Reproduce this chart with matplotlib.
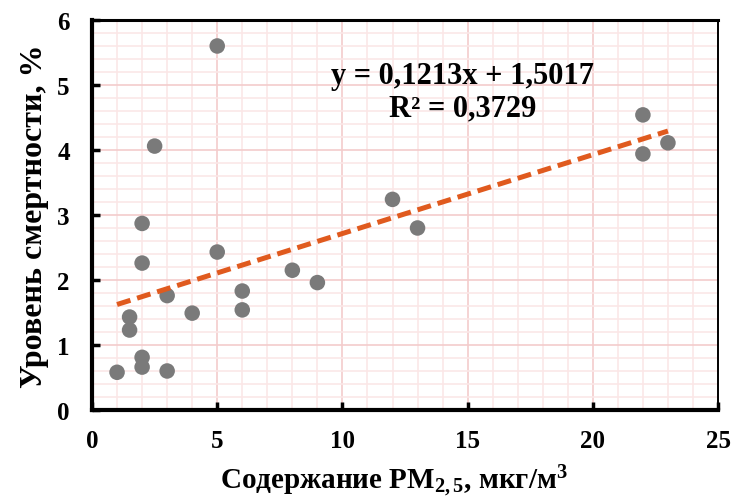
import matplotlib
matplotlib.use("Agg")
import matplotlib.pyplot as plt
import numpy as np
from matplotlib.ticker import MultipleLocator

# PM2.5 concentration (x) and mortality level (y)
pm25 = [1, 2, 2, 3, 1.5, 1.5, 4, 3, 2, 2, 5, 6, 6, 8, 9, 5, 2.5, 12, 13, 22, 22, 23]
mortality = [0.58, 0.66, 0.81, 0.60, 1.23, 1.43, 1.49, 1.76, 2.26, 2.87, 2.43,
             1.83, 1.54, 2.15, 1.96, 5.60, 4.06, 3.24, 2.80, 4.54, 3.94, 4.11]

# trend line coefficients as shown in the label
slope = 0.1213
intercept = 1.5017
r2 = 0.3729

plt.rcParams["font.family"] = ["Liberation Serif", "DejaVu Serif"]
plt.rcParams["font.weight"] = "bold"
plt.rcParams["mathtext.fontset"] = "custom"
plt.rcParams["mathtext.rm"] = "Liberation Serif:bold"
plt.rcParams["mathtext.bf"] = "Liberation Serif:bold"
plt.rcParams["mathtext.it"] = "Liberation Serif:bold:italic"

fig = plt.figure(figsize=(7.35, 5.02), dpi=100)
ax = fig.add_axes([0.1252, 0.1813, 0.8517, 0.7769])

ax.set_xlim(0, 25)
ax.set_ylim(0, 6)
ax.xaxis.set_major_locator(MultipleLocator(5))
ax.xaxis.set_minor_locator(MultipleLocator(1))
ax.yaxis.set_major_locator(MultipleLocator(1))
ax.yaxis.set_minor_locator(MultipleLocator(0.2))

ax.grid(which="major", color="#f3cccc", linewidth=1.2, zorder=0)
ax.grid(which="minor", color="#fbe7e7", linewidth=1.2, zorder=0)
ax.set_axisbelow(True)

ax.scatter(pm25, mortality, s=125, color="#7a7a7a", edgecolors="none", zorder=3)

xs = np.array([min(pm25), max(pm25)])
ax.plot(xs, slope * xs + intercept, color="#e05a1e", linewidth=3.6,
        linestyle=(0, (2.8, 1.4)), zorder=4)

eq = f"y = {slope:.4f}x + {intercept:.4f}\nR² = {r2:.4f}".replace(".", ",")
ax.text(14.8, 4.9, eq, ha="center", va="center", fontsize=22,
        fontweight="bold", linespacing=1.15, zorder=5)

for side in ("left", "bottom"):
    ax.spines[side].set_linewidth(3)
ax.spines["top"].set_linewidth(2.2)
ax.spines["right"].set_linewidth(1.4)

ax.tick_params(which="major", direction="in", length=6, width=2.5,
               labelsize=18)
ax.tick_params(axis="x", pad=14)
ax.tick_params(axis="y", pad=16)
ax.tick_params(which="minor", length=0)
for lbl in ax.get_xticklabels() + ax.get_yticklabels():
    lbl.set_fontweight("bold")

ax.set_xlabel("Содержание PM$_{\\mathbf{2,5}}$, мкг/м$^{\\mathbf{3}}$",
              fontsize=21, fontweight="bold", labelpad=6)
ax.xaxis.set_label_coords(0.482, -0.135)
ax.set_ylabel("Уровень смертности, %", fontsize=23, fontweight="bold", labelpad=6)

fig.savefig("out.png", dpi=100)
